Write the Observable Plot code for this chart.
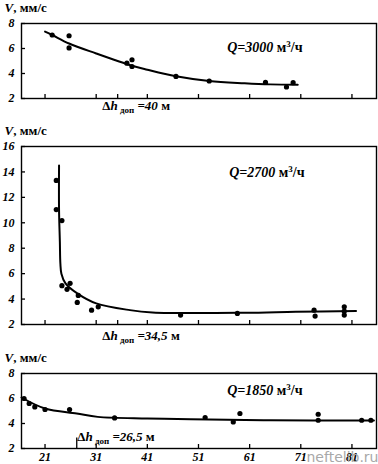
<!DOCTYPE html>
<html><head><meta charset="utf-8">
<script src="https://cdn.jsdelivr.net/npm/d3@7"></script>
<script src="https://cdn.jsdelivr.net/npm/@observablehq/plot@0.6"></script>
<style>
body{margin:0;background:#fff;width:378px;height:464px;overflow:hidden;font-family:"Liberation Serif",serif}
#chart svg{display:block}
</style></head><body><div id="chart"></div>
<script>
// shared axis values
const xDomain = [16.4, 85.8];
const xTickLabels = [21, 31, 41, 51, 61, 71, 81];
const xTicksTop = [21, 31, 35.2, 41, 51, 61, 71, 81];
const xTicksBottom = [21, 31, 41, 51, 61, 71, 81];
const yTicks1 = [2, 4, 6, 8];
const yTicks2 = [2, 4, 6, 8, 10, 12, 14, 16];
const yTicks3 = [2, 4, 6, 8];
const yLabel = "V, мм/с";
const watermark = "neftelib.ru";

// Panel 1: Q = 3000
const q1 = "Q=3000 м3/ч";
const dh1 = "Δh доп =40 м";
const p1X = [22.4, 25.7, 25.7, 37.0, 38.0, 38.0, 46.6, 53.1, 64.1, 68.2, 69.5];
const p1V = [7.08, 7.02, 6.05, 4.83, 5.10, 4.56, 3.77, 3.40, 3.29, 2.92, 3.27];
const c1X = [21, 22.4, 25.7, 31, 38, 41, 46.6, 53.1, 60, 65, 70.4];
const c1V = [7.35, 7.08, 6.4, 5.6, 4.62, 4.3, 3.78, 3.4, 3.22, 3.13, 3.1];

// Panel 2: Q = 2700
const q2 = "Q=2700 м3/ч";
const dh2 = "Δh доп =34,5 м";
const p2X = [23.2, 23.2, 24.3, 24.3, 25.3, 25.9, 27.5, 27.3, 30.1, 31.4, 47.5, 58.6, 73.6, 73.8, 79.5, 79.5, 79.5];
const p2V = [13.33, 11.04, 10.17, 5.05, 4.77, 5.24, 4.29, 3.74, 3.13, 3.39, 2.74, 2.87, 3.13, 2.66, 3.39, 3.05, 2.74];
const c2X = [23.74, 23.74, 23.9, 24.0, 24.2, 25.0, 27.3, 31.0, 37.6, 42, 60, 70, 81.8];
const c2V = [14.5, 11.0, 8.5, 6.8, 6.0, 5.24, 4.45, 3.66, 3.13, 2.95, 2.92, 3.0, 3.07];

// Panel 3: Q = 1850
const q3 = "Q=1850 м3/ч";
const dh3 = "Δh доп =26,5 м";
const dh3Mark = [27.2];
const p3X = [16.9, 17.9, 19.0, 21.0, 25.8, 34.6, 52.3, 57.8, 59.1, 74.4, 74.4, 82.9, 84.7];
const p3V = [6.0, 5.6, 5.33, 5.12, 5.12, 4.45, 4.48, 4.13, 4.8, 4.74, 4.26, 4.26, 4.26];
const c3X = [16.4, 21, 27.2, 31.3, 41, 49.5, 65.1, 85.3];
const c3V = [6.08, 5.2, 4.8, 4.53, 4.4, 4.34, 4.26, 4.24];

const W = 378, ML = 21, MR = 2;
const FW = W - ML - MR;
const SERIF = "'Liberation Serif', serif";

function panel({height, mt, mb, yDomain, yTicks, xTicks, pX, pV, cX, cV, q, qX, qY, dh, dhX, dhDy, dhY, showXLabels, extra = []}) {
  const FH = height - mt - mb;
  const dhMark = dhY == null
    ? Plot.text([dh], {x: () => dhX, frameAnchor: "bottom", dy: dhDy, textAnchor: "start", fontSize: 13})
    : Plot.text([dh], {x: () => dhX, y: () => dhY, textAnchor: "start", fontSize: 13});
  return Plot.plot({
    width: W, height,
    marginLeft: ML, marginRight: MR, marginTop: mt, marginBottom: mb,
    x: {domain: xDomain},
    y: {domain: yDomain},
    style: {fontSize: "12px", fontStyle: "italic", fontWeight: "bold", color: "black", background: "white"},
    marks: [
      Plot.axisY(yTicks, {tickSize: 0, tickPadding: 7, label: null, fontSize: 12}),
      showXLabels ? Plot.axisX(xTickLabels, {tickSize: 0, tickPadding: 4, label: null, fontSize: 12}) : Plot.axisX([], {label: null}),
      Plot.tickY(yTicks, {y: d => d, insetRight: FW - 4, stroke: "black", strokeWidth: 1.3}),
      Plot.tickX(xTicks, {x: d => d, insetTop: FH - 4, stroke: "black", strokeWidth: 1.3}),
      Plot.frame({stroke: "black", strokeWidth: 1.4}),
      ...extra,
      Plot.line(cX, {x: cX, y: cV, curve: "catmull-rom", stroke: "black", strokeWidth: 2}),
      Plot.dot(pX, {x: pX, y: pV, r: 2.6, fill: "black", stroke: "none"}),
      Plot.text([yLabel], {frameAnchor: "top-left", dx: -17, dy: -16, textAnchor: "start", lineAnchor: "middle", fontSize: 13}),
      Plot.text([q], {x: () => qX, y: () => qY, textAnchor: "start", fontSize: 14}),
      dhMark
    ]
  });
}

const root = document.getElementById("chart");
root.append(panel({height: 120, mt: 23, mb: 22, yDomain: [2, 8], yTicks: yTicks1, xTicks: xTicksTop,
  pX: p1X, pV: p1V, cX: c1X, cV: c1V, q: q1, qX: 56.6, qY: 6.1, dh: dh1, dhX: 32.2, dhDy: 11}));
root.append(panel({height: 226, mt: 26, mb: 22, yDomain: [2, 16], yTicks: yTicks2, xTicks: xTicksTop,
  pX: p2X, pV: p2V, cX: c2X, cV: c2V, q: q2, qX: 57.0, qY: 13.94, dh: dh2, dhX: 32.2, dhDy: 15}));
root.append(panel({height: 118, mt: 27, mb: 16, yDomain: [2, 8], yTicks: yTicks3, xTicks: xTicksBottom,
  pX: p3X, pV: p3V, cX: c3X, cV: c3V, q: q3, qX: 56.6, qY: 6.66, dh: dh3, dhX: 27.3, dhY: 2.95, showXLabels: true,
  extra: [
    Plot.ruleX(dh3Mark, {x: d => d, y1: 2, y2: 2.85, stroke: "black", strokeWidth: 1.3}),
    Plot.text([watermark], {frameAnchor: "bottom-right", dx: 2, dy: 9, textAnchor: "end", lineAnchor: "middle",
      fill: "#a8a8a8", fontSize: 14, fontStyle: "normal", fontWeight: "normal"})
  ]}));

// serif font on every text except the watermark; rich text formatting
d3.select(root).selectAll("text").each(function () {
  const t = this.textContent;
  const el = d3.select(this);
  let m;
  if (t === watermark) {
    el.style("font-family", "'DejaVu Sans', sans-serif");
    return;
  }
  el.style("font-family", SERIF);
  if (t === yLabel) {
    el.text(null);
    el.append("tspan").attr("font-style", "italic").text("V");
    el.append("tspan").attr("font-style", "normal").text(", мм/с");
  } else if ((m = t.match(/^(Q=\d+) м3\/ч$/))) {
    el.text(null);
    el.append("tspan").attr("font-style", "italic").text(m[1]);
    el.append("tspan").attr("font-style", "normal").text(" м");
    el.append("tspan").attr("font-style", "normal").attr("font-size", 9).attr("dy", -5).text("3");
    el.append("tspan").attr("font-style", "normal").attr("dy", 5).text("/ч");
  } else if ((m = t.match(/^Δh доп =(.+) м$/))) {
    el.text(null);
    el.append("tspan").attr("font-style", "normal").text("Δ");
    el.append("tspan").attr("font-style", "italic").text("h");
    el.append("tspan").attr("font-style", "normal").attr("font-size", 9).attr("dy", 3).text(" доп");
    el.append("tspan").attr("font-style", "italic").attr("dy", -3).text(" =" + m[1]);
    el.append("tspan").attr("font-style", "normal").text(" м");
  }
});
</script>
</body></html>
